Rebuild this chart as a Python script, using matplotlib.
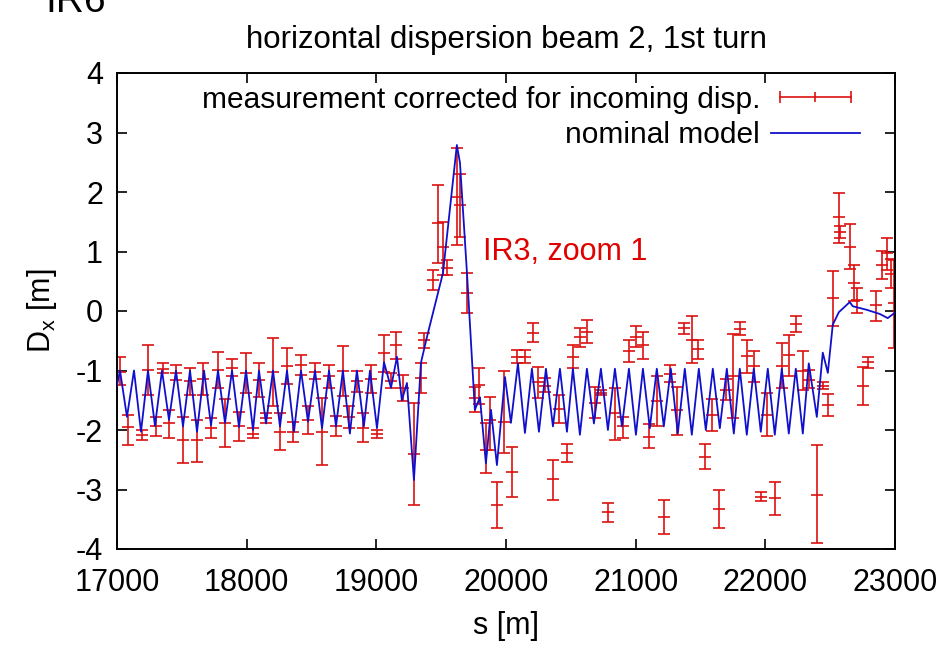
import matplotlib
matplotlib.use("Agg")
import matplotlib.pyplot as plt
from matplotlib.lines import Line2D
from matplotlib.legend_handler import HandlerLine2D, HandlerTuple

plt.rcParams["font.family"] = ["Liberation Sans", "DejaVu Sans"]
plt.rcParams["mathtext.fontset"] = "custom"
plt.rcParams["mathtext.rm"] = "Liberation Sans"
plt.rcParams["axes.unicode_minus"] = False

# nominal model D_x along s
model_s = [
    17000, 17023, 17077, 17131, 17185, 17239, 17293, 17347, 17401, 17455,
    17509, 17563, 17617, 17671, 17725, 17779, 17833, 17887, 17941, 17995,
    18049, 18095, 18149, 18203, 18257, 18311, 18365, 18419, 18473, 18527,
    18581, 18635, 18689, 18742, 18796, 18850, 18904, 18951, 19005, 19059,
    19113, 19159, 19197, 19236, 19290, 19344, 19390, 19514, 19621, 19645,
    19699, 19760, 19799, 19845, 19884, 19930, 19992, 20038, 20092, 20146,
    20200, 20254, 20308, 20362, 20416, 20470, 20516, 20570, 20624, 20678,
    20732, 20786, 20840, 20894, 20948, 21002, 21056, 21109, 21163, 21217,
    21271, 21325, 21379, 21433, 21487, 21541, 21595, 21649, 21703, 21757,
    21803, 21857, 21911, 21965, 22019, 22073, 22127, 22181, 22235, 22289,
    22335, 22397, 22443, 22482, 22520, 22567, 22651, 22674, 22782, 22883,
    22944, 22998,
]
model_d = [
    -1.25, -1.00, -1.78, -1.00, -2.03, -1.00, -1.93, -1.00, -1.83, -1.00,
    -1.94, -1.00, -2.03, -1.00, -1.92, -1.00, -1.88, -1.00, -1.95, -1.00,
    -2.00, -1.00, -1.89, -1.00, -1.94, -1.00, -2.03, -1.00, -1.86, -1.00,
    -1.97, -1.00, -1.94, -1.00, -2.06, -1.00, -1.94, -1.00, -1.97, -0.86,
    -1.29, -0.77, -1.50, -1.21, -2.84, -0.87, -0.44, 0.64, 2.79, 2.49,
    0.64, -1.66, -1.45, -2.56, -1.66, -2.59, -1.11, -1.88, -0.88, -2.05,
    -0.97, -2.03, -0.97, -1.94, -0.97, -2.03, -0.97, -2.08, -0.97, -1.89,
    -0.97, -2.00, -0.97, -1.94, -0.97, -2.08, -0.97, -1.97, -0.97, -1.94,
    -0.97, -2.06, -0.97, -2.08, -0.97, -2.00, -0.97, -1.97, -0.97, -2.06,
    -0.97, -2.08, -0.97, -2.03, -0.97, -2.08, -0.97, -2.06, -0.97, -2.06,
    -0.88, -1.78, -0.70, -1.04, -0.23, -0.02, 0.15, 0.08, 0.02, -0.05,
    -0.12, -0.03,
]

# measurement corrected for incoming dispersion: s, value, lower, upper
meas_s = [
    17023, 17082, 17190, 17242, 17298, 17352, 17404, 17455, 17512, 17563,
    17614, 17666, 17725, 17776, 17833, 17884, 17941, 17992, 18046, 18098,
    18149, 18205, 18257, 18313, 18360, 18416, 18470, 18527, 18579, 18634,
    18688, 18740, 18791, 18848, 18899, 18956, 19007, 19059, 19113, 19152,
    19208, 19290, 19344, 19367, 19437, 19473, 19511, 19542, 19619, 19645,
    19696, 19760, 19794, 19848, 19879, 19931, 19985, 20046, 20084, 20144,
    20207, 20246, 20298, 20360, 20410, 20467, 20513, 20570, 20627, 20683,
    20730, 20786, 20840, 20899, 20948, 21002, 21058, 21106, 21163, 21215,
    21266, 21318, 21372, 21433, 21480, 21534, 21588, 21642, 21696, 21749,
    21803, 21857, 21911, 21965, 22016, 22075, 22129, 22180, 22235, 22288,
    22339, 22396, 22443, 22482, 22520, 22567, 22575, 22651, 22682, 22705,
    22751, 22790, 22852, 22898, 22937, 22967, 22990,
]
meas_d = [
    -1.02, -1.95, -2.08, -0.99, -1.93, -0.98, -1.89, -1.05, -2.16, -1.18,
    -2.16, -1.15, -1.97, -0.99, -1.88, -0.95, -1.94, -1.05, -2.06, -1.16,
    -1.80, -1.02, -2.03, -0.93, -2.03, -0.91, -1.83, -1.02, -2.03, -1.10,
    -1.93, -1.01, -1.78, -1.18, -1.97, -1.15, -2.07, -0.71, -1.18, -0.57,
    -1.30, -2.40, -1.13, -0.49, 0.52, 1.48, 1.08, 0.72, 1.92, 1.78,
    0.30, -1.46, -1.25, -2.34, -1.83, -3.26, -1.86, -2.70, -0.77, -0.77,
    -0.37, -1.19, -1.26, -2.83, -1.64, -2.38, -0.77, -0.44, -0.36, -1.54,
    -1.37, -3.38, -1.72, -1.94, -0.67, -0.44, -0.57, -2.11, -1.52, -3.46,
    -1.06, -1.66, -0.29, -0.49, -0.64, -2.45, -1.75, -3.33, -1.33, -1.09,
    -0.30, -0.76, -0.93, -3.12, -1.75, -3.15, -0.92, -0.74, -0.22, -1.00,
    -1.16, -3.09, -1.26, -1.58, 0.22, 1.58, 1.33, 1.08, 0.47, 0.18,
    -1.26, -0.85, 0.10, 0.77, 0.97, 0.63, 0.13,
]
meas_lo = [
    -1.25, -2.25, -2.17, -1.41, -2.10, -1.05, -2.13, -1.16, -2.56, -1.41,
    -2.53, -1.41, -2.14, -1.30, -2.28, -1.10, -2.19, -1.38, -2.14, -1.44,
    -1.89, -1.60, -2.33, -1.22, -2.20, -1.08, -2.06, -1.15, -2.59, -1.30,
    -2.10, -1.43, -1.97, -1.36, -2.20, -1.38, -2.14, -1.02, -1.30, -0.80,
    -1.52, -3.26, -1.38, -0.62, 0.35, 0.80, 0.60, 0.60, 1.11, 1.25,
    -0.03, -1.70, -1.56, -2.73, -2.34, -3.65, -2.39, -3.12, -0.88, -0.88,
    -0.52, -1.47, -1.36, -3.18, -1.89, -2.53, -0.96, -0.60, -0.54, -1.80,
    -1.41, -3.54, -2.16, -2.13, -0.85, -0.60, -0.81, -2.31, -1.93, -3.74,
    -1.19, -2.08, -0.38, -0.88, -0.80, -2.66, -2.01, -3.65, -1.50, -1.80,
    -0.40, -1.05, -1.19, -3.20, -2.10, -3.43, -1.30, -1.09, -0.36, -1.33,
    -1.30, -3.90, -1.31, -1.76, -0.25, 1.15, 1.23, 0.70, 0.16, -0.03,
    -1.58, -0.95, -0.17, 0.53, 0.69, 0.39, -0.63,
]
meas_hi = [
    -0.77, -1.75, -2.00, -0.57, -1.78, -0.88, -1.66, -0.90, -1.78, -0.95,
    -1.83, -0.88, -1.80, -0.69, -1.48, -0.80, -1.69, -0.70, -1.97, -0.88,
    -1.72, -0.46, -1.72, -0.63, -1.86, -0.74, -1.60, -0.88, -1.47, -0.90,
    -1.76, -0.59, -1.60, -1.00, -1.72, -0.90, -2.00, -0.40, -1.05, -0.35,
    -1.07, -1.55, -0.88, -0.37, 0.69, 2.12, 1.50, 0.85, 2.74, 2.31,
    0.64, -1.27, -0.96, -1.89, -1.44, -2.87, -1.00, -2.28, -0.66, -0.66,
    -0.20, -0.94, -1.13, -2.50, -1.41, -2.23, -0.57, -0.29, -0.15, -1.27,
    -1.33, -3.23, -1.30, -1.78, -0.48, -0.26, -0.35, -1.90, -1.10, -3.18,
    -0.91, -1.27, -0.21, -0.08, -0.49, -2.24, -1.48, -3.01, -1.15, -0.38,
    -0.19, -0.48, -0.67, -3.04, -1.38, -2.87, -0.54, -0.40, -0.08, -0.68,
    -0.99, -2.25, -1.20, -1.39, 0.67, 1.98, 1.43, 1.46, 0.77, 0.38,
    -0.94, -0.77, 0.34, 1.01, 1.23, 0.88, 0.86,
]

x_ticks = [17000, 18000, 19000, 20000, 21000, 22000, 23000]
y_ticks = [-4, -3, -2, -1, 0, 1, 2, 3, 4]

RED = "#dc1010"
BLUE = "#1010cc"

fig = plt.figure(figsize=(9.43, 6.53), dpi=100)
ax = fig.add_axes([117 / 943, 104 / 653, 778 / 943, 476 / 653])

err_lo = [d - lo for d, lo in zip(meas_d, meas_lo)]
err_hi = [hi - d for d, hi in zip(meas_d, meas_hi)]
ax.errorbar(meas_s, meas_d, yerr=[err_lo, err_hi], fmt="_", color=RED,
            ecolor=RED, elinewidth=1.2, capsize=4, capthick=1.2,
            markersize=8, markeredgewidth=1.2, zorder=2)
ax.plot(model_s, model_d, color=BLUE, lw=1.3, zorder=3)

ax.set_xlim(17000, 23000)
ax.set_ylim(-4, 4)
ax.set_xticks(x_ticks)
ax.set_yticks(y_ticks)
ax.tick_params(direction="in", length=7, width=1.2, top=True, right=True,
               labelsize=22)
ax.tick_params(axis="x", pad=14)
ax.tick_params(axis="y", pad=10)
for sp in ax.spines.values():
    sp.set_linewidth(1.4)

ax.set_xlabel("s [m]", fontsize=22, labelpad=9)
ax.set_ylabel(r"D$_\mathregular{x}$ [m]", fontsize=22, labelpad=12)
ax.set_title("horizontal dispersion beam 2, 1st turn", fontsize=22.5, pad=18)

ax.text(19822, 0.99, "IR3, zoom 1", color="#e00000", fontsize=22,
        va="center", ha="left")
fig.text(45 / 943, 1 - 12 / 653, "IR6", fontsize=28, va="baseline")

# gnuplot-like legend: horizontal error bar sample and plain line sample
h_bar = Line2D([], [], color=RED, lw=1.2, marker="|", markersize=9,
               markeredgewidth=1.2)
h_mid = Line2D([], [], color=RED, lw=0, marker="|", markersize=7,
               markeredgewidth=1.2)
h_line = Line2D([], [], color=BLUE, lw=1.3)
ax.legend([(h_bar, h_mid), h_line],
          ["measurement corrected for incoming disp.", "nominal model"],
          handler_map={h_bar: HandlerLine2D(numpoints=2),
                       h_mid: HandlerLine2D(numpoints=1),
                       tuple: HandlerTuple(ndivide=1)},
          loc="upper right", bbox_to_anchor=(1 - 8 / 778, 1 + 14 / 476),
          frameon=False, markerfirst=False,
          fontsize=21.5, handlelength=3.0, handletextpad=0.35,
          labelspacing=0.25, borderaxespad=0.5)

fig.savefig("out.png", dpi=100)
